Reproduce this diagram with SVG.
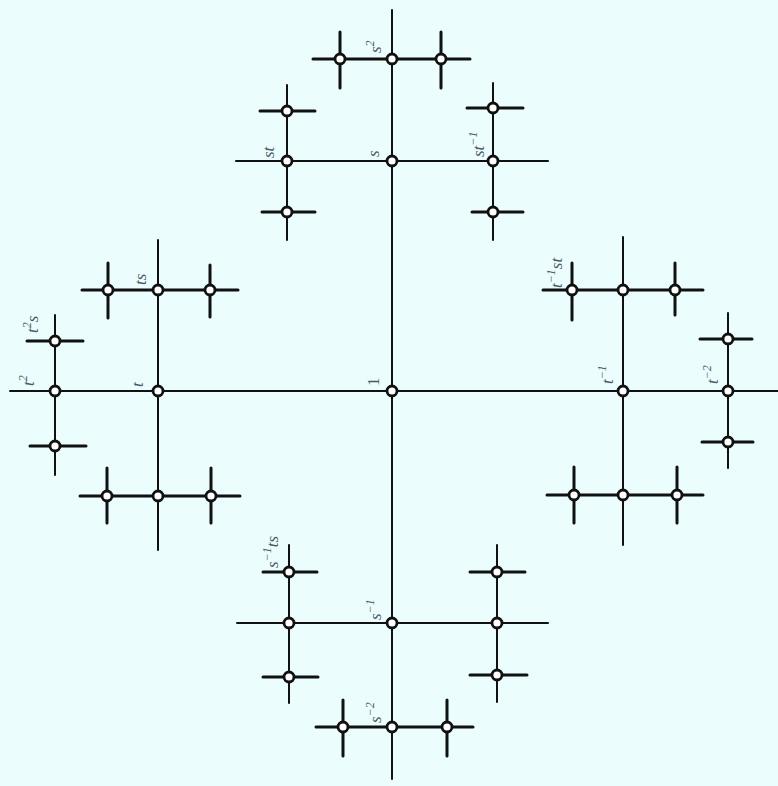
<svg xmlns="http://www.w3.org/2000/svg" width="778" height="786" viewBox="0 0 778 786">
<style>
.bg{fill:#ebfdfd}
.c line{stroke:#111;stroke-linecap:round}
.m{stroke-width:2}
.o{stroke-width:3}
.n circle{fill:#fff;stroke:#111;stroke-width:2.8}
.lb{font-family:"Liberation Serif","DejaVu Serif",serif;font-style:italic;font-size:17px;fill:#4d5866}
.sup{font-size:12px}
</style>
<rect class="bg" x="0" y="0" width="778" height="786"/>
<g id="connectors" class="c">
<line class="m" x1="10" y1="391" x2="778" y2="391"/>
<line class="m" x1="392" y1="10" x2="392" y2="779"/>
<line class="m" x1="236" y1="161" x2="548" y2="161"/>
<line class="o" x1="313" y1="59" x2="470" y2="59"/>
<line class="o" x1="340" y1="32" x2="340" y2="88"/>
<line class="o" x1="441" y1="32" x2="441" y2="88"/>
<line class="m" x1="287" y1="85" x2="287" y2="240"/>
<line class="o" x1="260" y1="111" x2="315" y2="111"/>
<line class="o" x1="262" y1="212" x2="315" y2="212"/>
<line class="m" x1="493" y1="83" x2="493" y2="240"/>
<line class="o" x1="467" y1="108" x2="523" y2="108"/>
<line class="o" x1="472" y1="212" x2="523" y2="212"/>
<line class="m" x1="158" y1="240" x2="158" y2="550"/>
<line class="o" x1="82" y1="290" x2="238" y2="290"/>
<line class="o" x1="108" y1="263" x2="108" y2="318"/>
<line class="o" x1="210" y1="265" x2="210" y2="317"/>
<line class="o" x1="80" y1="496" x2="240" y2="496"/>
<line class="o" x1="107" y1="468" x2="107" y2="523"/>
<line class="o" x1="211" y1="468" x2="211" y2="523"/>
<line class="m" x1="55" y1="315" x2="55" y2="475"/>
<line class="o" x1="27" y1="341" x2="83" y2="341"/>
<line class="o" x1="30" y1="446" x2="86" y2="446"/>
<line class="m" x1="623" y1="237" x2="623" y2="545"/>
<line class="o" x1="543" y1="290" x2="703" y2="290"/>
<line class="o" x1="572" y1="263" x2="572" y2="320"/>
<line class="o" x1="675" y1="263" x2="675" y2="315"/>
<line class="o" x1="547" y1="495" x2="703" y2="495"/>
<line class="o" x1="574" y1="467" x2="574" y2="523"/>
<line class="o" x1="677" y1="467" x2="677" y2="523"/>
<line class="m" x1="728" y1="313" x2="728" y2="468"/>
<line class="o" x1="700" y1="339" x2="752" y2="339"/>
<line class="o" x1="702" y1="442" x2="753" y2="442"/>
<line class="m" x1="237" y1="623" x2="548" y2="623"/>
<line class="m" x1="289" y1="545" x2="289" y2="703"/>
<line class="o" x1="263" y1="572" x2="317" y2="572"/>
<line class="o" x1="263" y1="677" x2="318" y2="677"/>
<line class="m" x1="497" y1="545" x2="497" y2="702"/>
<line class="o" x1="470" y1="572" x2="525" y2="572"/>
<line class="o" x1="470" y1="675" x2="527" y2="675"/>
<line class="o" x1="316" y1="727" x2="473" y2="727"/>
<line class="o" x1="343" y1="700" x2="343" y2="756"/>
<line class="o" x1="447" y1="700" x2="447" y2="756"/>
</g>
<g class="n">
<g id="n-1"><circle cx="392" cy="391" r="5"/></g>
<g id="n-s"><circle cx="392" cy="161" r="5"/></g>
<g id="n-s2"><circle cx="392" cy="59" r="5"/></g>
<g id="n-s2t"><circle cx="340" cy="59" r="5"/></g>
<g id="n-s2ti"><circle cx="441" cy="59" r="5"/></g>
<g id="n-st"><circle cx="287" cy="161" r="5"/></g>
<g id="n-sts"><circle cx="287" cy="111" r="5"/></g>
<g id="n-stsi"><circle cx="287" cy="212" r="5"/></g>
<g id="n-sti"><circle cx="493" cy="161" r="5"/></g>
<g id="n-stis"><circle cx="493" cy="108" r="5"/></g>
<g id="n-stisi"><circle cx="493" cy="212" r="5"/></g>
<g id="n-t"><circle cx="158" cy="391" r="5"/></g>
<g id="n-ts"><circle cx="158" cy="290" r="5"/></g>
<g id="n-tst"><circle cx="108" cy="290" r="5"/></g>
<g id="n-tsti"><circle cx="210" cy="290" r="5"/></g>
<g id="n-tsi"><circle cx="158" cy="496" r="5"/></g>
<g id="n-tsit"><circle cx="107" cy="496" r="5"/></g>
<g id="n-tsiti"><circle cx="211" cy="496" r="5"/></g>
<g id="n-t2"><circle cx="55" cy="391" r="5"/></g>
<g id="n-t2s"><circle cx="55" cy="341" r="5"/></g>
<g id="n-t2si"><circle cx="55" cy="446" r="5"/></g>
<g id="n-ti"><circle cx="623" cy="391" r="5"/></g>
<g id="n-tis"><circle cx="623" cy="290" r="5"/></g>
<g id="n-tist"><circle cx="572" cy="290" r="5"/></g>
<g id="n-tisti"><circle cx="675" cy="290" r="5"/></g>
<g id="n-tisi"><circle cx="623" cy="495" r="5"/></g>
<g id="n-tisit"><circle cx="574" cy="495" r="5"/></g>
<g id="n-tisiti"><circle cx="677" cy="495" r="5"/></g>
<g id="n-ti2"><circle cx="728" cy="391" r="5"/></g>
<g id="n-ti2s"><circle cx="728" cy="339" r="5"/></g>
<g id="n-ti2si"><circle cx="728" cy="442" r="5"/></g>
<g id="n-si"><circle cx="392" cy="623" r="5"/></g>
<g id="n-sit"><circle cx="289" cy="623" r="5"/></g>
<g id="n-sits"><circle cx="289" cy="572" r="5"/></g>
<g id="n-sitsi"><circle cx="289" cy="677" r="5"/></g>
<g id="n-siti"><circle cx="497" cy="623" r="5"/></g>
<g id="n-sitis"><circle cx="497" cy="572" r="5"/></g>
<g id="n-sitisi"><circle cx="497" cy="675" r="5"/></g>
<g id="n-si2"><circle cx="392" cy="727" r="5"/></g>
<g id="n-si2t"><circle cx="343" cy="727" r="5"/></g>
<g id="n-si2ti"><circle cx="447" cy="727" r="5"/></g>
</g>
<g id="labels" class="lb">
<text transform="translate(381,53) rotate(-90)">s<tspan class="sup" dy="-7">2</tspan></text>
<text transform="translate(274,158) rotate(-90)">st</text>
<text transform="translate(379,157) rotate(-90)">s</text>
<text transform="translate(484,157) rotate(-90)">st<tspan class="sup" dy="-7">−1</tspan></text>
<text transform="translate(146,285) rotate(-90)">ts</text>
<text transform="translate(38,333) rotate(-90)">t<tspan class="sup" dy="-7">2</tspan><tspan dy="7">s</tspan></text>
<text transform="translate(34,386) rotate(-90)">t<tspan class="sup" dy="-7">2</tspan></text>
<text transform="translate(143,387) rotate(-90)">t</text>
<text transform="translate(379,386) rotate(-90)" font-style="normal">1</text>
<text transform="translate(562,288) rotate(-90)">t<tspan class="sup" dy="-7">−1</tspan><tspan dy="7">st</tspan></text>
<text transform="translate(613,384) rotate(-90)">t<tspan class="sup" dy="-7">−1</tspan></text>
<text transform="translate(718,384) rotate(-90)">t<tspan class="sup" dy="-7">−2</tspan></text>
<text transform="translate(278,568) rotate(-90)">s<tspan class="sup" dy="-7">−1</tspan><tspan dy="7">ts</tspan></text>
<text transform="translate(381,620) rotate(-90)">s<tspan class="sup" dy="-7">−1</tspan></text>
<text transform="translate(381,723) rotate(-90)">s<tspan class="sup" dy="-7">−2</tspan></text>
</g>
</svg>
